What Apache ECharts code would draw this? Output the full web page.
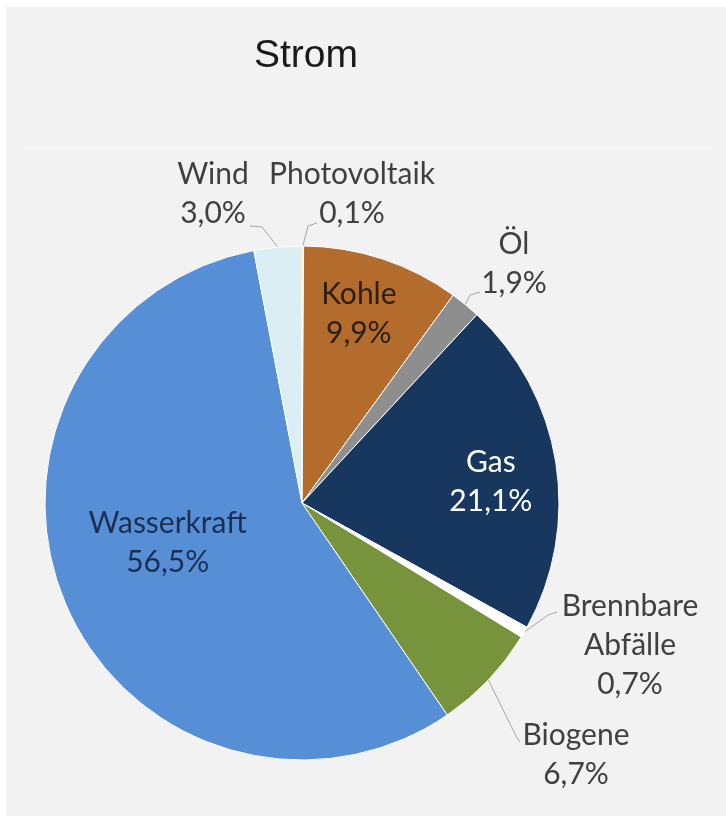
<!DOCTYPE html>
<html>
<head>
<meta charset="utf-8">
<script src="https://cdn.jsdelivr.net/npm/echarts@6/dist/echarts.min.js"></script>
<style>
html,body{margin:0;padding:0;background:#ffffff;}
#chart{width:726px;height:816px;}
</style>
</head>
<body>
<div id="chart"></div>
<script>
// ---- data ----
const categories = ['Photovoltaik', 'Kohle', 'Öl', 'Gas', 'Brennbare Abfälle', 'Biogene', 'Wasserkraft', 'Wind'];
const labelNames = ['Photovoltaik', 'Kohle', 'Öl', 'Gas', 'Brennbare\nAbfälle', 'Biogene', 'Wasserkraft', 'Wind'];
const values = [0.1, 9.9, 1.9, 21.1, 0.7, 6.7, 56.5, 3.0];
const colors = ['#f5c242', '#b46c2c', '#8e8e8e', '#17375e', '#ffffff', '#77933c', '#578fd6', '#dbeef4'];
const titleText = 'Strom';

// ---- layout ----
const CX = 302, CY = 503, R = 257;
const insideSet = { 'Kohle': { f: 1.53, dx: -6, dy: 2 }, 'Gas': { f: 1.47, dx: -2, dy: 9 }, 'Wasserkraft': { f: 1.09, dx: -2, dy: -15 } };
const insideColor = { 'Kohle': '#2b2016', 'Gas': '#ffffff', 'Wasserkraft': '#1c2f52' };
const outsidePos = {
  'Photovoltaik': { x: 352, y: 194, line: [[308, 226], [317, 223]] },
  'Wind': { x: 213, y: 194, line: [[262, 227], [250, 226]] },
  'Öl': { x: 514, y: 264, line: [[470, 295], [480, 292]] },
  'Brennbare Abfälle': { x: 630, y: 645, line: [[548, 615], [557, 612]] },
  'Biogene': { x: 576, y: 755, line: [[517, 738], [520, 742]] }
};

function fmt(v) { return v.toFixed(1).replace('.', ',') + '%'; }

const data = categories.map((c, i) => {
  const inside = insideSet[c] !== undefined;
  return {
    name: c,
    value: values[i],
    itemStyle: { color: colors[i] },
    label: {
      position: inside ? 'inside' : 'outside',
      color: inside ? insideColor[c] : '#404040'
    },
    labelLine: { show: !inside }
  };
});

const chart = echarts.init(document.getElementById('chart'), null, { renderer: 'canvas' });
chart.setOption({
  backgroundColor: '#ffffff',
  animation: false,
  graphic: [
    { type: 'rect', shape: { x: 6, y: 7, width: 720, height: 809 }, style: { fill: '#f2f2f2' }, z: -10 },
    { type: 'line', shape: { x1: 20, y1: 148, x2: 716, y2: 148 }, style: { stroke: '#f7f7f7', lineWidth: 3 }, z: -9 }
  ],
  title: {
    text: titleText,
    left: 301, top: 32,
    textAlign: 'center',
    textStyle: { fontFamily: 'Liberation Sans', fontSize: 39, fontWeight: 'normal', color: '#1a1a1a' }
  },
  series: [{
    type: 'pie',
    center: [CX, CY],
    radius: [0, R],
    startAngle: 90,
    clockwise: true,
    avoidLabelOverlap: false,
    minShowLabelAngle: 0,
    itemStyle: { borderColor: '#ffffff', borderWidth: 1 },
    label: {
      show: true,
      fontFamily: 'Lato',
      fontSize: 30,
      lineHeight: 39,
      align: 'center',
      formatter: p => labelNames[p.dataIndex] + '\n' + fmt(p.value)
    },
    labelLine: { length: 15, length2: 10, lineStyle: { color: '#a6a6a6', width: 1 } },
    labelLayout: function (params) {
      const name = categories[params.dataIndex];
      const ins = insideSet[name];
      if (ins !== undefined) {
        const r = params.labelRect;
        const cx = r.x + r.width / 2, cy = r.y + r.height / 2;
        return { x: CX + (cx - CX) * ins.f + ins.dx, y: CY + (cy - CY) * ins.f + ins.dy, align: 'center', verticalAlign: 'middle' };
      }
      const o = outsidePos[name];
      const pts = params.labelLinePoints;
      const p0 = pts && pts[0] ? pts[0] : o.line[0];
      return {
        x: o.x, y: o.y, align: 'center', verticalAlign: 'middle',
        labelLinePoints: [p0, o.line[0], o.line[1]]
      };
    },
    data: data
  }]
});
</script>
</body>
</html>
